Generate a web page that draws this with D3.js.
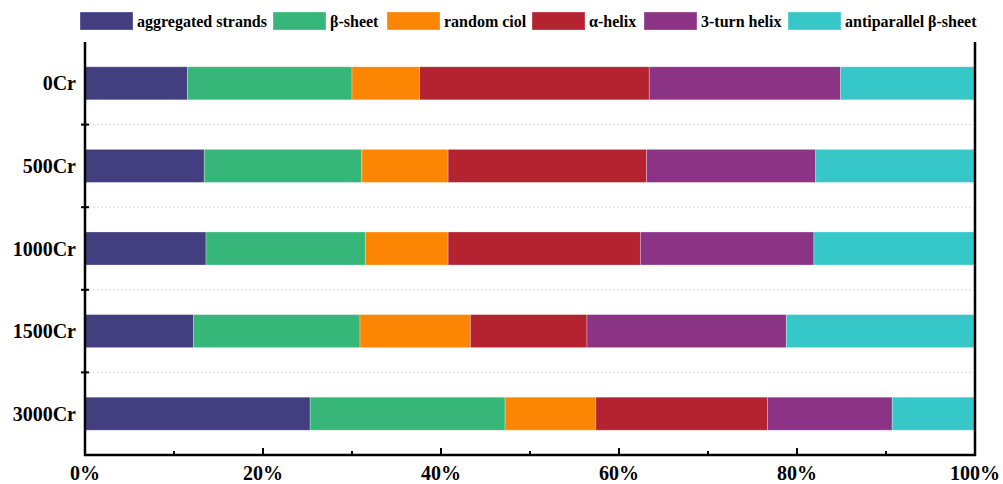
<!DOCTYPE html>
<html><head><meta charset="utf-8">
<script src="https://cdn.jsdelivr.net/npm/d3@7"></script>
<style>body{margin:0;background:#fff;} svg{display:block;}</style>
</head><body>
<svg id="chart" width="1003" height="484"></svg>
<script>
const categories = ["0Cr","500Cr","1000Cr","1500Cr","3000Cr"];
const seriesNames = ["aggregated strands","β-sheet","random ciol","α-helix","3-turn helix","antiparallel β-sheet"];
const aggregated = [11.5, 13.4, 13.6, 12.2, 25.3];
const betaSheet  = [18.5, 17.7, 17.9, 18.7, 21.9];
const randomCoil = [7.6, 9.7, 9.3, 12.4, 10.2];
const alphaHelix = [25.8, 22.3, 21.6, 13.1, 19.3];
const turnHelix  = [21.5, 19.0, 19.5, 22.4, 14.0];
const antiBeta   = [15.1, 17.9, 18.1, 21.2, 9.3];
const xTicks = [0,20,40,60,80,100];
const colors = ["#423E80","#36B779","#FC8604","#B52230","#8B3486","#36C8C9"];

const seriesValues = [aggregated, betaSheet, randomCoil, alphaHelix, turnHelix, antiBeta];
const rows = categories.map((c,i)=>{
  const r = {cat:c};
  seriesNames.forEach((s,j)=>{ r[s] = seriesValues[j][i]; });
  return r;
});

const svg = d3.select("#chart");
const L = 85, R = 975, T = 42, B = 455;
const font = "'Liberation Serif','Times New Roman',serif";

const x = d3.scaleLinear().domain([0,100]).range([L,R]);
const y = d3.scaleBand().domain(categories).range([T,B]).paddingInner(0.6).paddingOuter(0.3);

// dotted grid lines at band boundaries
const step = y.step();
const boundaries = categories.slice(1).map(c => y(c) - step*y.paddingInner()/2);
svg.append("g").selectAll("line").data(boundaries).join("line")
  .attr("x1", L).attr("x2", R).attr("y1", d=>d).attr("y2", d=>d)
  .attr("stroke", "#d8d8d8").attr("stroke-width", 1).attr("stroke-dasharray", "2,2");

// stacked bars
const stack = d3.stack().keys(seriesNames)(rows);
svg.append("g").selectAll("g").data(stack).join("g")
  .attr("fill", (d,i)=>colors[i])
  .selectAll("rect").data(d=>d).join("rect")
  .attr("x", d=>x(d[0])).attr("width", d=>x(Math.min(100,d[1]))-x(d[0]))
  .attr("y", d=>y(d.data.cat)).attr("height", y.bandwidth())
  .attr("stroke", "rgba(255,255,255,0.35)").attr("stroke-width", 0.8);

// x axis
const xAxis = svg.append("g").attr("transform", `translate(0,${B})`);
xAxis.append("line").attr("x1", L-1).attr("x2", R+1).attr("stroke","#000").attr("stroke-width",2.5);
const minor = d3.range(10,100,20);
xAxis.selectAll(".maj").data(xTicks).join("line").attr("class","maj")
  .attr("x1", d=>x(d)).attr("x2", d=>x(d)).attr("y1",0).attr("y2",-7)
  .attr("stroke","#000").attr("stroke-width",2);
xAxis.selectAll(".min").data(minor).join("line").attr("class","min")
  .attr("x1", d=>x(d)).attr("x2", d=>x(d)).attr("y1",0).attr("y2",-4)
  .attr("stroke","#000").attr("stroke-width",2);
xAxis.selectAll("text").data(xTicks).join("text")
  .attr("x", d=>x(d)).attr("y", 25).attr("text-anchor","middle")
  .attr("font-family", font).attr("font-weight","bold").attr("font-size",20)
  .text(d=>d+"%");

// y axis
const yAxis = svg.append("g");
yAxis.append("line").attr("x1", L).attr("x2", L).attr("y1", T).attr("y2", B+1)
  .attr("stroke","#000").attr("stroke-width",2.5);
yAxis.selectAll(".tk").data(boundaries).join("line").attr("class","tk")
  .attr("x1", L-4).attr("x2", L+4).attr("y1", d=>d).attr("y2", d=>d)
  .attr("stroke","#000").attr("stroke-width",2);
yAxis.selectAll("text").data(categories).join("text")
  .attr("x", 76).attr("y", d=>y(d)+y.bandwidth()/2).attr("dy","0.35em")
  .attr("text-anchor","end")
  .attr("font-family", font).attr("font-weight","bold").attr("font-size",20)
  .text(d=>d);

// right border
svg.append("line").attr("x1", R).attr("x2", R).attr("y1", T).attr("y2", B+1)
  .attr("stroke","#000").attr("stroke-width",2.5);

// legend
const legendX = [80, 273, 387, 532, 644, 788];
const lg = svg.append("g").selectAll("g").data(seriesNames).join("g")
  .attr("transform", (d,i)=>`translate(${legendX[i]},12)`);
lg.append("rect").attr("width",53).attr("height",18).attr("fill",(d,i)=>colors[i])
  .attr("stroke","rgba(255,255,255,0.4)").attr("stroke-width",0.8);
lg.append("text").attr("x",57).attr("y",9).attr("dy","0.35em")
  .attr("font-family", font).attr("font-weight","bold").attr("font-size",16)
  .text(d=>d);
</script>
</body></html>
